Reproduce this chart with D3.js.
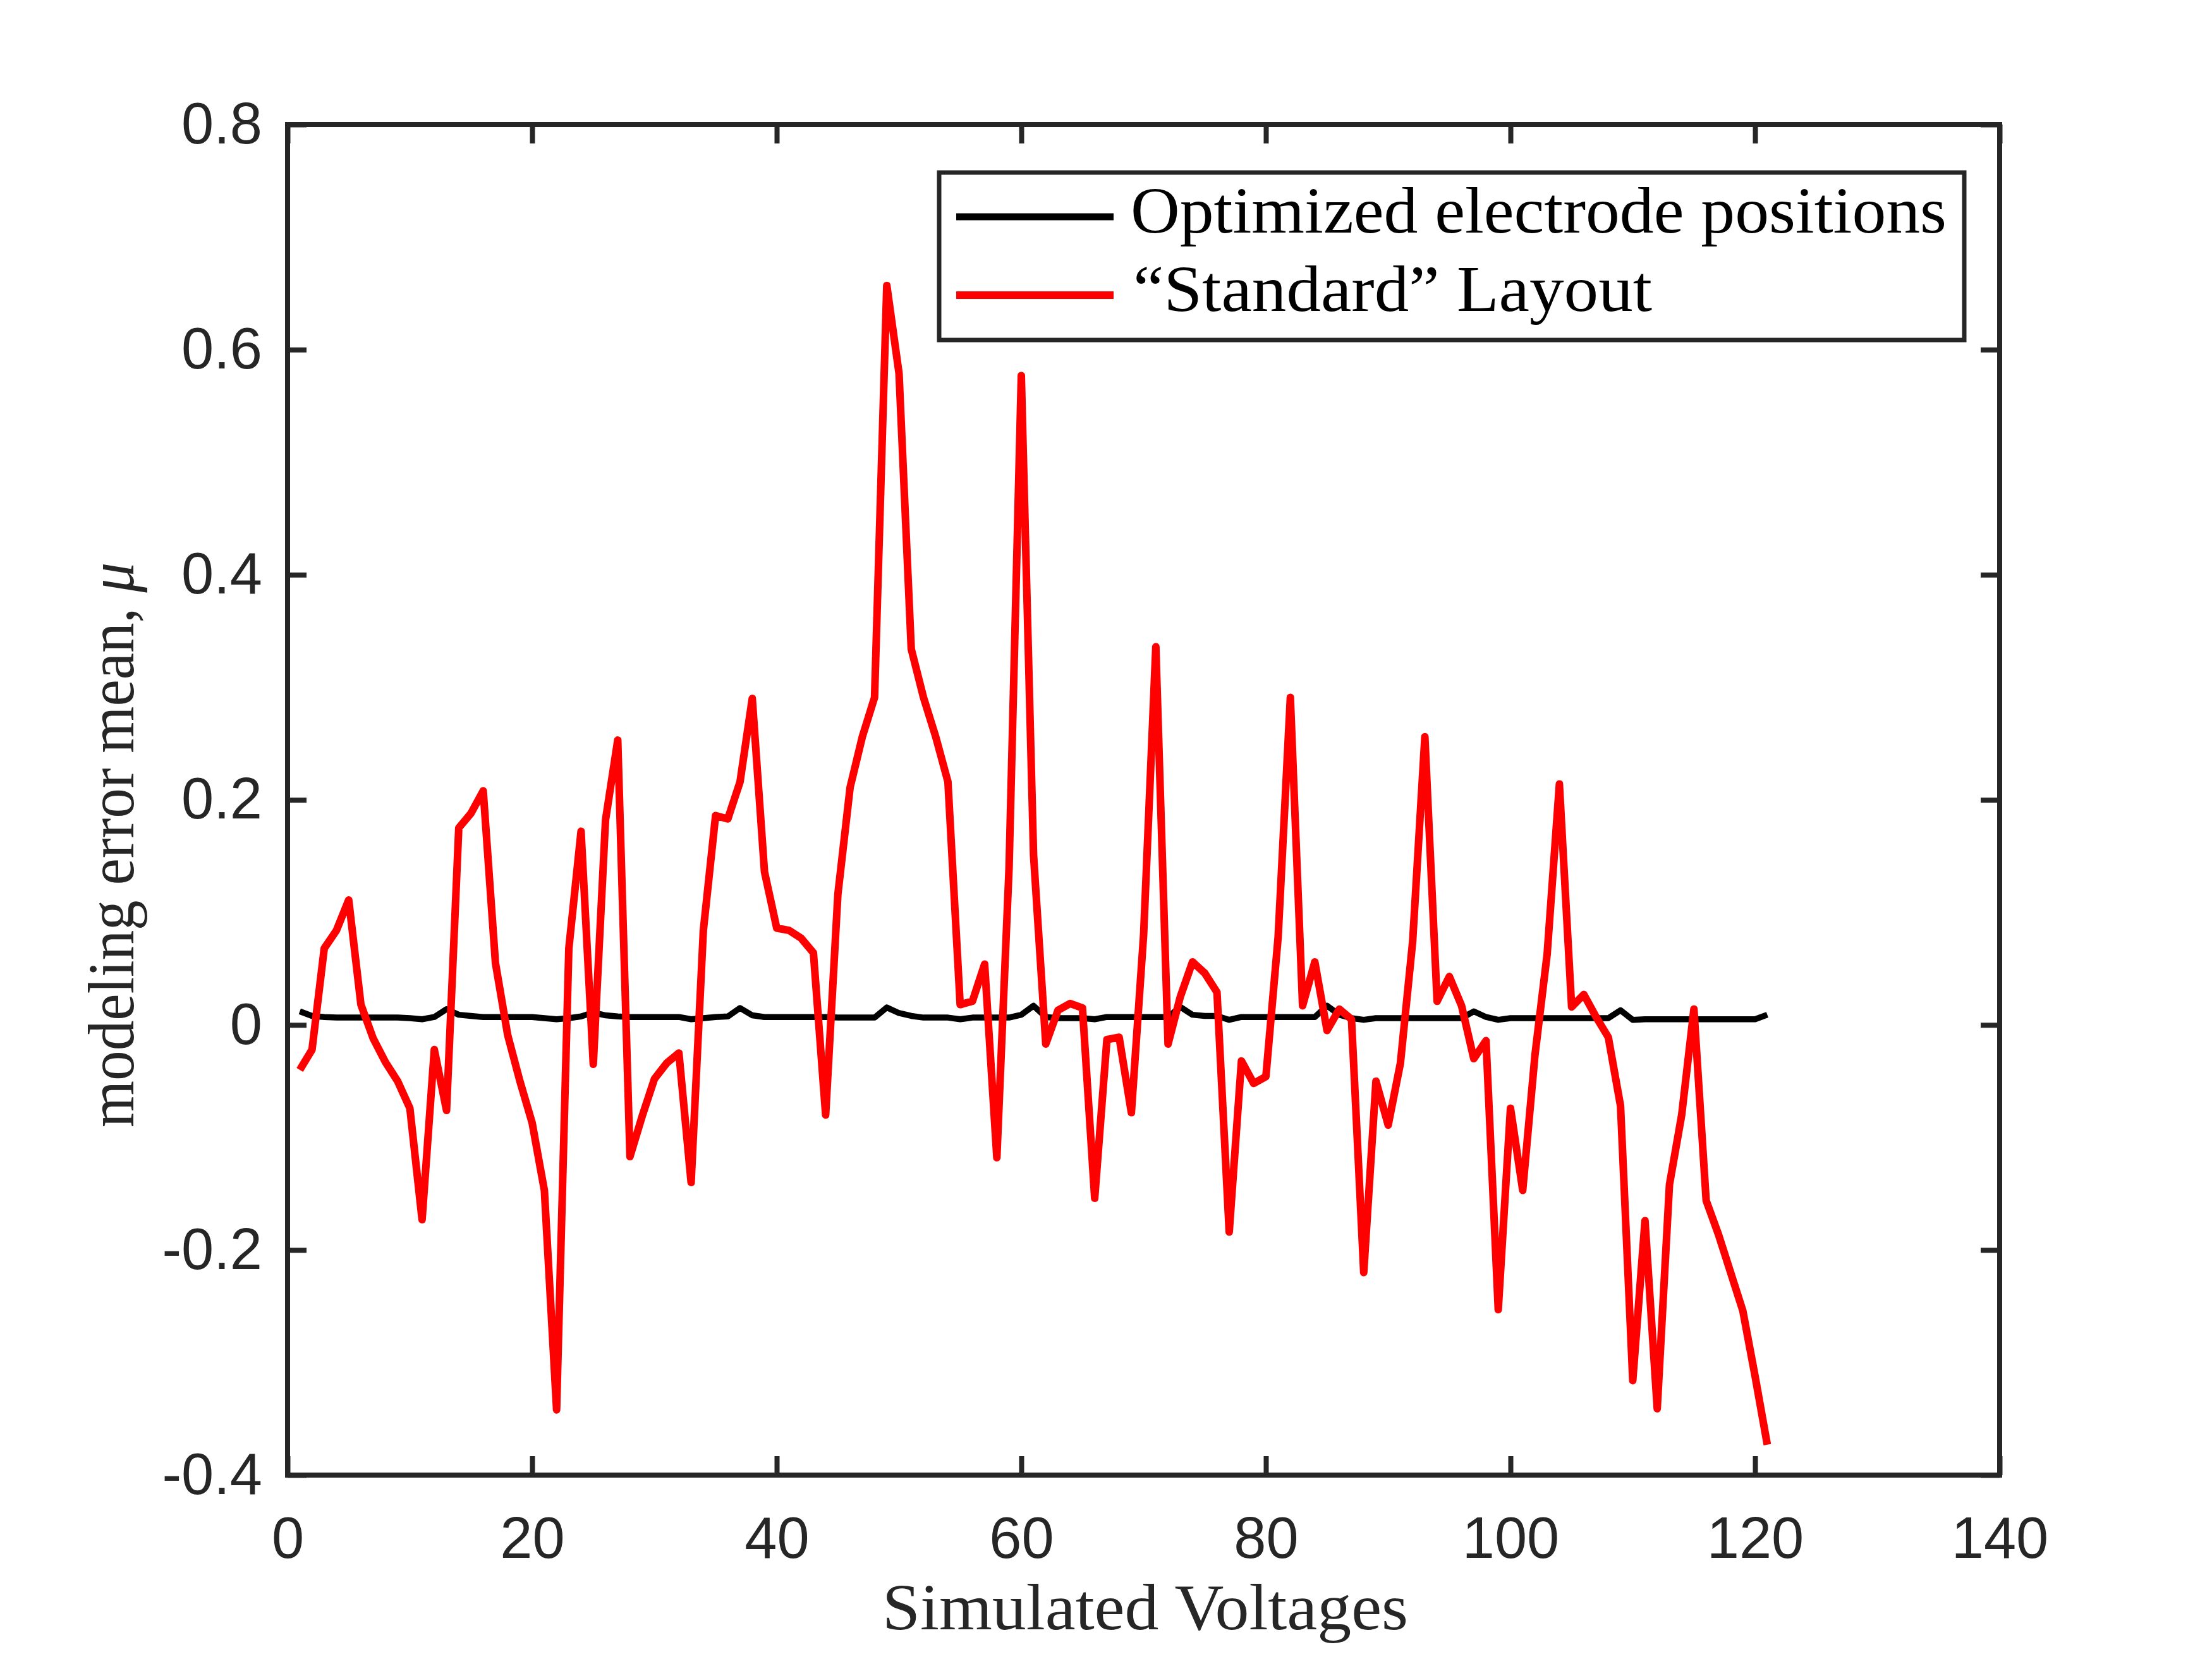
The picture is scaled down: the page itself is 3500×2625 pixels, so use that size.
<!DOCTYPE html>
<html>
<head>
<meta charset="utf-8">
<script src="https://d3js.org/d3.v7.min.js"></script>
<style>
  html, body { margin: 0; padding: 0; background: #fff; }
  svg { display: block; }
  .tick text { font-family: "Liberation Sans", Arial, sans-serif; font-size: 92px; fill: #262626; }
  .tick line { stroke: #262626; stroke-width: 8; }
  .serif { font-family: "Liberation Serif", "Times New Roman", serif; font-size: 104px; }
</style>
</head>
<body>
<svg id="chart"></svg>
<script>
// Mean modeling error, one value per simulated voltage (1..121)
const optimizedMean = [
  0.012, 0.008, 0.007, 0.0065, 0.0065, 0.0065, 0.0065, 0.0065, 0.0065, 0.006,
  0.005, 0.007, 0.014, 0.009, 0.008, 0.007, 0.007, 0.007, 0.007, 0.007,
  0.006, 0.005, 0.006, 0.0075, 0.011, 0.0085, 0.0075, 0.007, 0.007, 0.007,
  0.007, 0.007, 0.005, 0.006, 0.007, 0.0075, 0.015, 0.0085, 0.007, 0.007,
  0.007, 0.007, 0.007, 0.007, 0.0065, 0.0065, 0.0065, 0.0065, 0.0155, 0.0105,
  0.008, 0.0065, 0.0065, 0.0065, 0.005, 0.0065, 0.0065, 0.0065, 0.0065, 0.009,
  0.017, 0.007, 0.006, 0.006, 0.006, 0.005, 0.007, 0.007, 0.007, 0.007,
  0.007, 0.007, 0.016, 0.009, 0.008, 0.008, 0.0045, 0.007, 0.007, 0.007,
  0.007, 0.007, 0.007, 0.007, 0.017, 0.009, 0.006, 0.0045, 0.006, 0.006,
  0.006, 0.006, 0.006, 0.006, 0.006, 0.006, 0.012, 0.007, 0.0045, 0.006,
  0.006, 0.006, 0.006, 0.006, 0.006, 0.006, 0.006, 0.006, 0.013, 0.0045,
  0.005, 0.005, 0.005, 0.005, 0.005, 0.005, 0.005, 0.005, 0.005, 0.005,
  0.009
];

const standardMean = [
  -0.040, -0.022, 0.068, 0.084, 0.111, 0.018, -0.012, -0.033, -0.050, -0.074,
  -0.173, -0.022, -0.076, 0.175, 0.188, 0.208, 0.055, -0.009, -0.050, -0.087,
  -0.147, -0.342, 0.068, 0.172, -0.035, 0.182, 0.253, -0.117, -0.081, -0.048,
  -0.034, -0.025, -0.140, 0.084, 0.186, 0.183, 0.216, 0.290, 0.136, 0.086,
  0.084, 0.077, 0.064, -0.080, 0.116, 0.211, 0.256, 0.291, 0.657, 0.579,
  0.334, 0.291, 0.256, 0.216, 0.018, 0.021, 0.054, -0.118, 0.140, 0.577,
  0.151, -0.017, 0.013, 0.019, 0.015, -0.154, -0.013, -0.011, -0.078, 0.080,
  0.336, -0.017, 0.025, 0.056, 0.046, 0.029, -0.184, -0.032, -0.052, -0.046,
  0.078, 0.291, 0.017, 0.056, -0.005, 0.014, 0.005, -0.220, -0.050, -0.089,
  -0.034, 0.074, 0.256, 0.021, 0.043, 0.017, -0.030, -0.014, -0.253, -0.074,
  -0.147, -0.027, 0.063, 0.214, 0.016, 0.027, 0.007, -0.011, -0.072, -0.316,
  -0.174, -0.341, -0.142, -0.080, 0.014, -0.156, -0.186, -0.220, -0.254, -0.312,
  -0.373
];

const xTicks = [0, 20, 40, 60, 80, 100, 120, 140];
const yTicks = [-0.4, -0.2, 0, 0.2, 0.4, 0.6, 0.8];
const legendLabels = ["Optimized electrode positions", "\u201CStandard\u201D Layout"];

const W = 3500, H = 2625;
const plot = { left: 455, right: 3164, top: 197, bottom: 2334 };
const axisColor = "#262626";

const svg = d3.select("#chart").attr("width", W).attr("height", H);
svg.append("rect").attr("width", W).attr("height", H).attr("fill", "#fff");

const x = d3.scaleLinear().domain([0, 140]).range([plot.left, plot.right]);
const y = d3.scaleLinear().domain([-0.4, 0.8]).range([plot.bottom, plot.top]);

const fmtY = d => d === 0 ? "0" : d.toFixed(1);

// Axes with inward ticks on all four sides
svg.append("g")
  .attr("transform", `translate(0,${plot.bottom})`)
  .call(d3.axisBottom(x).tickValues(xTicks).tickSizeInner(-30).tickSizeOuter(0).tickPadding(66))
  .call(g => g.select(".domain").remove());

svg.append("g")
  .attr("transform", `translate(0,${plot.top})`)
  .call(d3.axisTop(x).tickValues(xTicks).tickSizeInner(-30).tickSizeOuter(0).tickFormat(""))
  .call(g => g.select(".domain").remove());

svg.append("g")
  .attr("transform", `translate(${plot.left},0)`)
  .call(d3.axisLeft(y).tickValues(yTicks).tickFormat(fmtY).tickSizeInner(-30).tickSizeOuter(0).tickPadding(40))
  .call(g => g.select(".domain").remove());

svg.append("g")
  .attr("transform", `translate(${plot.right},0)`)
  .call(d3.axisRight(y).tickValues(yTicks).tickSizeInner(-30).tickSizeOuter(0).tickFormat(""))
  .call(g => g.select(".domain").remove());

svg.selectAll(".tick text").attr("fill", axisColor);

// Data lines
const line = d3.line()
  .x((d, i) => x(i + 1))
  .y(d => y(d));

svg.append("path")
  .datum(optimizedMean)
  .attr("d", line)
  .attr("fill", "none")
  .attr("stroke", "#000")
  .attr("stroke-width", 9.5)
  .attr("stroke-linejoin", "round");

svg.append("path")
  .datum(standardMean)
  .attr("d", line)
  .attr("fill", "none")
  .attr("stroke", "#ff0000")
  .attr("stroke-width", 12)
  .attr("stroke-linejoin", "round");

// Frame
svg.append("rect")
  .attr("x", plot.left).attr("y", plot.top)
  .attr("width", plot.right - plot.left).attr("height", plot.bottom - plot.top)
  .attr("fill", "none").attr("stroke", axisColor).attr("stroke-width", 8);

// Axis labels
svg.append("text")
  .attr("class", "serif")
  .attr("x", 1396).attr("y", 2578)
  .attr("textLength", 832).attr("lengthAdjust", "spacingAndGlyphs")
  .attr("fill", axisColor)
  .text("Simulated Voltages");

const ylab = svg.append("text")
  .attr("class", "serif")
  .attr("transform", "translate(211,1784) rotate(-90)")
  .attr("textLength", 894).attr("lengthAdjust", "spacingAndGlyphs")
  .attr("fill", axisColor);
ylab.append("tspan").text("modeling error mean, ");
ylab.append("tspan").attr("font-style", "italic").text("\u03BC");

// Legend
const legend = svg.append("g");
legend.append("rect")
  .attr("x", 1486).attr("y", 273).attr("width", 1622).attr("height", 265)
  .attr("fill", "#fff").attr("stroke", axisColor).attr("stroke-width", 7);

const legendColors = ["#000", "#ff0000"];
const legendWidths = [11, 12];
const legendTextLen = [1291, 821];
legendLabels.forEach((label, i) => {
  const cy = 343 + i * 124;
  legend.append("line")
    .attr("x1", 1513).attr("x2", 1762)
    .attr("y1", cy).attr("y2", cy)
    .attr("stroke", legendColors[i]).attr("stroke-width", legendWidths[i]);
  legend.append("text")
    .attr("class", "serif")
    .attr("x", i === 0 ? 1789 : 1793).attr("y", cy + 25)
    .attr("textLength", legendTextLen[i]).attr("lengthAdjust", "spacingAndGlyphs")
    .attr("fill", "#000")
    .text(label);
});
</script>
</body>
</html>
